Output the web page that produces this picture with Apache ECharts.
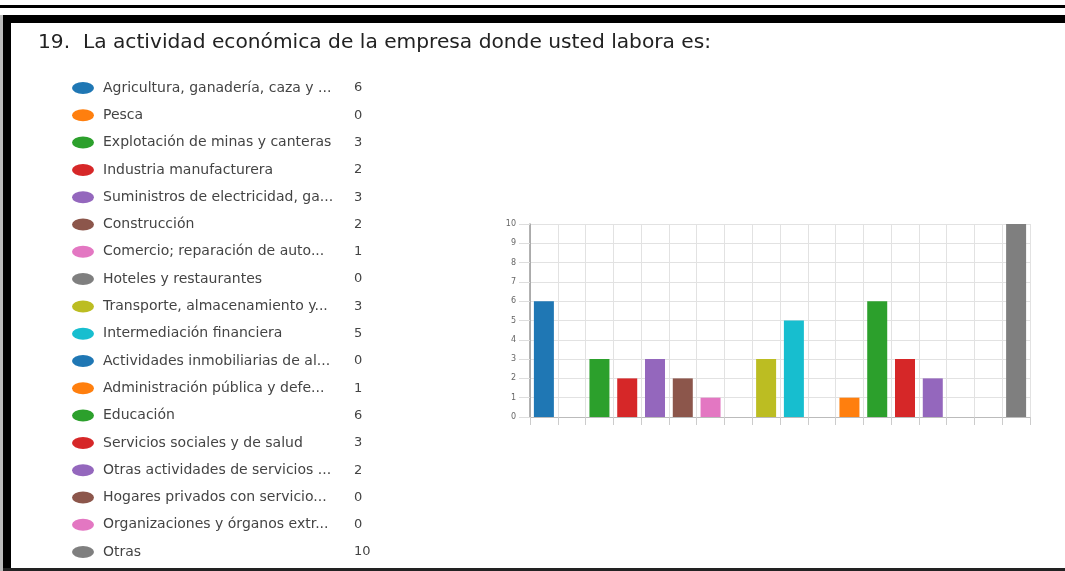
<!DOCTYPE html>
<html>
<head>
<meta charset="utf-8">
<script src="https://cdn.jsdelivr.net/npm/echarts@6/dist/echarts.min.js"></script>
<style>
html,body{margin:0;padding:0;background:#fff;}
#c{width:1065px;height:571px;}
</style>
</head>
<body>
<div id="c"></div>
<script>
const titleText = '19.  La actividad económica de la empresa donde usted labora es:';
const categories = [
  'Agricultura, ganadería, caza y ...',
  'Pesca',
  'Explotación de minas y canteras',
  'Industria manufacturera',
  'Suministros de electricidad, ga...',
  'Construcción',
  'Comercio; reparación de auto...',
  'Hoteles y restaurantes',
  'Transporte, almacenamiento y...',
  'Intermediación financiera',
  'Actividades inmobiliarias de al...',
  'Administración pública y defe...',
  'Educación',
  'Servicios sociales y de salud',
  'Otras actividades de servicios ...',
  'Hogares privados con servicio...',
  'Organizaciones y órganos extr...',
  'Otras'
];
const values = [6, 0, 3, 2, 3, 2, 1, 0, 3, 5, 0, 1, 6, 3, 2, 0, 0, 10];
const palette = ['#1f77b4','#ff7f0e','#2ca02c','#d62728','#9467bd','#8c564b','#e377c2','#7f7f7f','#bcbd22','#17becf'];
const yTicks = [0,1,2,3,4,5,6,7,8,9,10];

const valueByName = {};
categories.forEach((c, i) => valueByName[c] = values[i]);

const series = categories.map((name, i) => ({
  name: name,
  type: 'bar',
  stack: 'all',
  barWidth: '72%',
  itemStyle: { color: palette[i % palette.length] },
  emphasis: { disabled: true },
  data: categories.map((_, j) => (j === i ? values[i] : '-'))
}));

const chart = echarts.init(document.getElementById('c'));
chart.setOption({
  animation: false,
  color: palette,
  title: {
    text: titleText,
    left: 38,
    top: 33,
    padding: 0,
    textStyle: { fontFamily: 'DejaVu Sans', fontSize: 20.2, fontWeight: 'normal', color: '#222' }
  },
  legend: {
    orient: 'vertical',
    left: 72,
    top: 81,
    height: 485,
    padding: 0,
    itemWidth: 22,
    itemHeight: 12,
    itemGap: 13.3,
    selectedMode: false,
    icon: 'path://M0,6 A11,6 0 1,1 22,6 A11,6 0 1,1 0,6 Z',
    data: categories,
    formatter: function (name) {
      return '{n|' + name + '}{v|' + valueByName[name] + '}';
    },
    textStyle: {
      fontFamily: 'DejaVu Sans',
      fontSize: 14,
      color: '#444',
      lineHeight: 12,
      padding: [0, 0, 0, 4],
      rich: {
        n: { width: 251, fontFamily: 'DejaVu Sans', fontSize: 14, color: '#444', lineHeight: 12 },
        v: { fontFamily: 'DejaVu Sans', fontSize: 13, color: '#444', lineHeight: 12 }
      }
    }
  },
  grid: { left: 530, right: 35, top: 224, bottom: 154, containLabel: false },
  xAxis: {
    type: 'category',
    data: categories,
    boundaryGap: true,
    axisLine: { show: true, lineStyle: { color: '#bbb', width: 1 } },
    axisTick: { show: true, interval: 0, length: 8, lineStyle: { color: '#ccc' } },
    axisLabel: { show: false, interval: 0 },
    splitLine: { show: true, interval: 0, lineStyle: { color: '#e2e2e2', width: 1 } }
  },
  yAxis: {
    type: 'value',
    min: yTicks[0],
    max: yTicks[yTicks.length - 1],
    interval: 1,
    axisLine: { show: true, lineStyle: { color: '#999', width: 1.5 } },
    axisTick: { show: true, length: 11, lineStyle: { color: '#ddd' } },
    axisLabel: { margin: 14, fontFamily: 'DejaVu Sans', fontSize: 8, color: '#666' },
    splitLine: { show: true, lineStyle: { color: '#e2e2e2', width: 1 } }
  },
  graphic: [
    { type: 'rect', silent: true, shape: { x: 0, y: 5, width: 1065, height: 3 }, style: { fill: '#000' } },
    { type: 'rect', silent: true, shape: { x: 3, y: 15, width: 1062, height: 8 }, style: { fill: '#000' } },
    { type: 'rect', silent: true, shape: { x: 3, y: 15, width: 8, height: 556 }, style: { fill: '#000' } },
    { type: 'rect', silent: true, shape: { x: 0, y: 15, width: 3, height: 556 }, style: { fill: '#bbb' } },
    { type: 'rect', silent: true, shape: { x: 3, y: 568, width: 1062, height: 3 }, style: { fill: '#222' } }
  ],
  series: series
});
</script>
</body>
</html>
